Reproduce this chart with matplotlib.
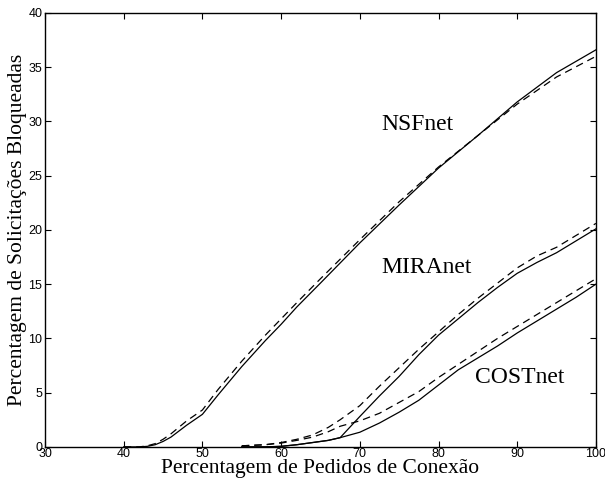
import numpy as np
import matplotlib.pyplot as plt

# NSFnet
x_nsf = [40, 42, 43, 44, 45, 46, 48, 50, 52, 55, 58, 60, 62, 65, 70, 75, 80, 85, 90, 95, 100]
nsf_solid = [0, 0, 0.05, 0.2, 0.5, 0.9, 2.0, 3.0, 4.8, 7.4, 9.8, 11.3, 12.9, 15.1, 18.8, 22.3, 25.7, 28.7, 31.8, 34.5, 36.6]
nsf_dash = [0, 0, 0.1, 0.3, 0.7, 1.2, 2.4, 3.4, 5.3, 7.9, 10.3, 11.8, 13.3, 15.5, 19.1, 22.6, 25.8, 28.7, 31.6, 34.1, 36.0]

# MIRAnet / COSTnet
x_mc = [55, 58, 60, 62, 64, 66, 67.5, 70, 72.5, 75, 77.5, 80, 82.5, 85, 87.5, 90, 92.5, 95, 97.5, 100]
mira_solid = [0, 0, 0.05, 0.2, 0.4, 0.6, 0.85, 2.8, 4.7, 6.5, 8.5, 10.3, 11.8, 13.3, 14.7, 16.0, 17.0, 17.9, 19.0, 20.1]
mira_dash = [0.1, 0.2, 0.4, 0.7, 1.1, 1.8, 2.5, 3.8, 5.6, 7.3, 9.0, 10.6, 12.2, 13.7, 15.1, 16.5, 17.6, 18.4, 19.5, 20.6]
cost_solid = [0, 0, 0.05, 0.2, 0.4, 0.6, 0.85, 1.35, 2.2, 3.2, 4.3, 5.7, 7.1, 8.2, 9.3, 10.5, 11.6, 12.7, 13.8, 15.0]
cost_dash = [0.1, 0.2, 0.35, 0.6, 0.9, 1.4, 1.9, 2.4, 3.1, 4.1, 5.1, 6.4, 7.6, 8.8, 10.0, 11.1, 12.2, 13.3, 14.4, 15.5]

fig = plt.figure(figsize=(6.05, 4.8), dpi=100)
ax = fig.add_axes([0.0744, 0.069, 0.9106, 0.904])

lw = 0.9
ax.plot(x_nsf, nsf_solid, "k-", lw=lw)
ax.plot(x_nsf, nsf_dash, "k--", lw=lw, dashes=(6, 4))
ax.plot(x_mc, mira_solid, "k-", lw=lw)
ax.plot(x_mc, mira_dash, "k--", lw=lw, dashes=(6, 4))
ax.plot(x_mc, cost_solid, "k-", lw=lw)
ax.plot(x_mc, cost_dash, "k--", lw=lw, dashes=(6, 4))

serif = "Liberation Serif"
ax.text(72.8, 29.7, "NSFnet", fontsize=17, family=serif, va="center")
ax.text(72.8, 16.5, "MIRAnet", fontsize=17, family=serif, va="center")
ax.text(84.6, 6.4, "COSTnet", fontsize=17, family=serif, va="center")

ax.set_xlim(30, 100)
ax.set_ylim(0, 40)
ax.set_xticks(np.arange(30, 101, 10))
ax.set_yticks(np.arange(0, 41, 5))
ax.tick_params(direction="in", top=True, right=True, length=4, labelsize=9, pad=2)
ax.tick_params(axis="x", pad=1)
for lab in ax.get_xticklabels() + ax.get_yticklabels():
    lab.set_family("Liberation Sans")
for s in ax.spines.values():
    s.set_linewidth(1.0)

ax.set_xlabel("Percentagem de Pedidos de Conexão", fontsize=15.5, family=serif, labelpad=-1)
ax.set_ylabel("Percentagem de Solicitações Bloqueadas", fontsize=15.5, family=serif, labelpad=1)

fig.savefig("out.png", dpi=100)
